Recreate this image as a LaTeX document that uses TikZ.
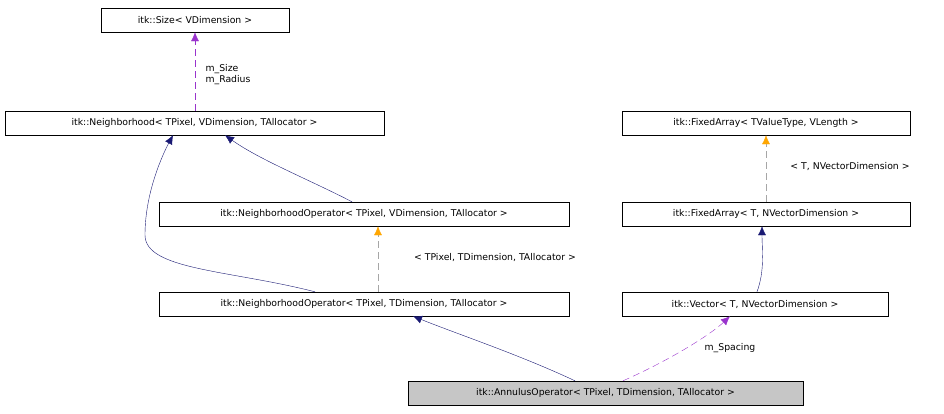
\documentclass[tikz,border=0pt]{standalone}
\usepackage{fontspec}
\setmainfont{DejaVu Sans}
\usetikzlibrary{arrows.meta}
\definecolor{edgeblue}{rgb}{0.1,0.1,0.45}
\definecolor{edgepurple}{rgb}{0.6,0.2,0.8}
\definecolor{edgeorange}{rgb}{1.0,0.65,0.0}

\begin{document}
\begin{tikzpicture}
  [x=1pt,y=-1pt,
   every node/.style={font=\fontsize{9.3}{11}\selectfont},
   cls/.style={draw,fill=white,inner sep=0pt,minimum height=24pt},
   lbl/.style={inner sep=1pt,align=left},
   inherit/.style={draw=edgeblue,-{Latex[length=9pt,width=8pt]}},
   usage/.style={draw=edgepurple,dashed,dash pattern=on 7pt off 4pt,-{Latex[length=9pt,width=8pt]}},
   templ/.style={draw=gray!70,dashed,dash pattern=on 7pt off 4pt,-{Latex[length=9pt,width=8pt,color=edgeorange]}}]
  \useasboundingbox (0,0) rectangle (944,413);

  \node[cls,minimum width=188pt] (size) at (195,20) {itk::Size< VDimension >};
  \node[cls,minimum width=379pt] (nbh) at (194.5,123) {itk::Neighborhood< TPixel, VDimension, TAllocator >};
  \node[cls,minimum width=410pt] (nopv) at (364,214) {itk::NeighborhoodOperator< TPixel, VDimension, TAllocator >};
  \node[cls,minimum width=410pt] (nopt) at (364,304) {itk::NeighborhoodOperator< TPixel, TDimension, TAllocator >};
  \node[cls,minimum width=395pt,fill=gray!45] (ann) at (605.5,393) {itk::AnnulusOperator< TPixel, TDimension, TAllocator >};
  \node[cls,minimum width=288pt] (fav) at (766,123) {itk::FixedArray< TValueType, VLength >};
  \node[cls,minimum width=288pt] (fat) at (766,214) {itk::FixedArray< T, NVectorDimension >};
  \node[cls,minimum width=266pt] (vec) at (755,304) {itk::Vector< T, NVectorDimension >};

  \draw[usage] (nbh.north -| size) -- (size.south);
  \node[lbl] (lsize) at (228,75) {m\_Size\\m\_Radius};
  \draw[inherit] (nopt.north -| 315,0) .. controls (230,270) and (145,270) .. (145,235)
    .. controls (145,190) and (165,150) .. (nbh.south -| 173,0);
  \draw[inherit] (nopv.north -| 352,0) .. controls (310,180) and (260,160) .. (nbh.south -| 225,0);
  \draw[templ] (nopt.north -| 378,0) -- (nopv.south -| 378,0);
  \node[lbl] (lnop) at (495,258) {< TPixel, TDimension, TAllocator >};
  \draw[inherit] (ann.north -| 575,0) .. controls (520,355) and (460,335) .. (nopt.south -| 413,0);
  \draw[usage] (ann.north -| 623,0) .. controls (670,360) and (710,335) .. (vec.south -| 730,0);
  \node[lbl] (lspc) at (730,348) {m\_Spacing};
  \draw[templ] (fat.north -| 766,0) -- (fav.south -| 766,0);
  \node[lbl] (lfa) at (850,167) {< T, NVectorDimension >};
  \draw[inherit] (vec.north -| 757,0) .. controls (765,270) and (762,250) .. (fat.south -| 762,0);
\end{tikzpicture}
\end{document}
